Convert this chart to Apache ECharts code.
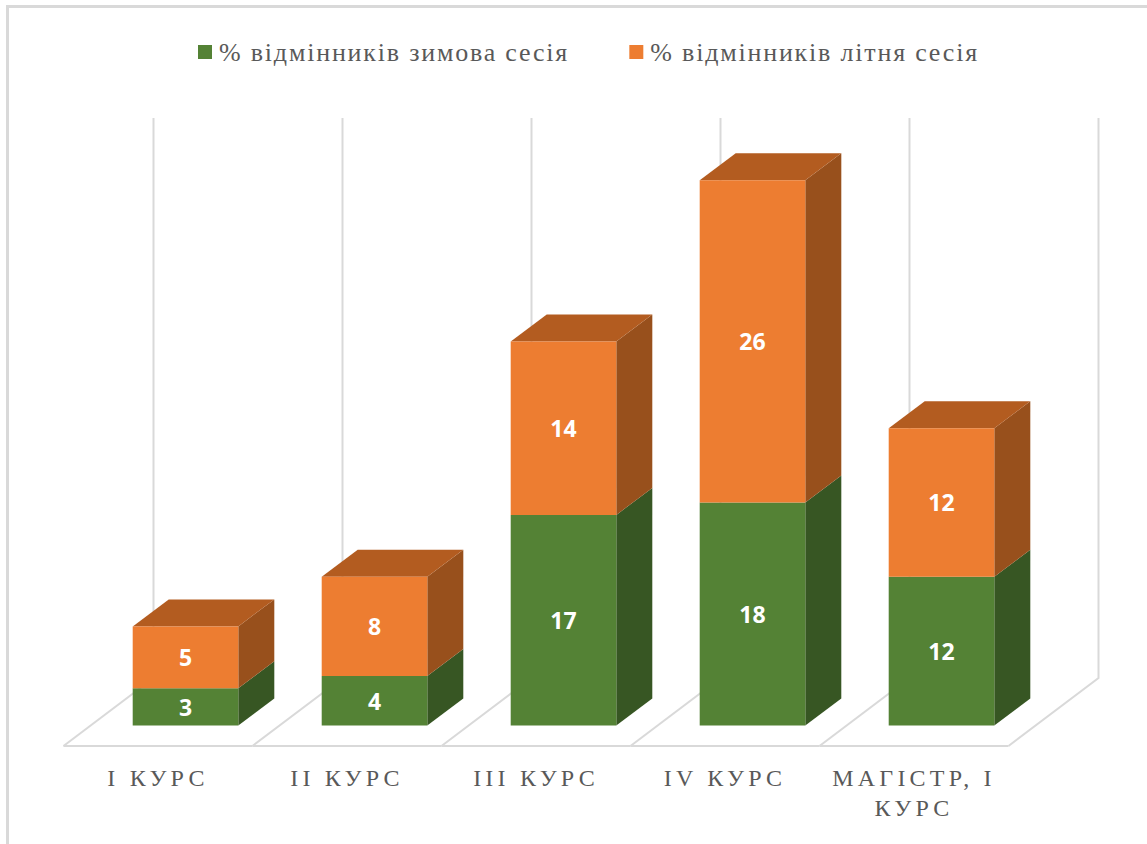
<!DOCTYPE html>
<html><head><meta charset="utf-8">
<style>
html,body{margin:0;padding:0;background:#fff}
#c{width:1147px;height:844px}
text[style*="24px"]{letter-spacing:4.2px}
text[style*="26px"]{letter-spacing:1.8px}
</style>
<script src="https://cdn.jsdelivr.net/npm/echarts@6/dist/echarts.min.js"></script>
</head><body><div id="c"></div>
<script>
const categories = ['І КУРС','ІІ КУРС','ІІІ КУРС','ІV КУРС','МАГІСТР, І\nКУРС'];
const winterValues = [3,4,17,18,12];
const summerValues = [5,8,14,26,12];
const winterName = '% відмінників зимова сесія';
const summerName = '% відмінників літня сесія';
const wallTopValue = 45.2;

const DX=36, DY=27, HALF=52.8, BAR_SHIFT=27.5, BAR_LIFT=20.5, FLOOR_DX=90, FLOOR_DY=68;
const LINE='#d9d9d9';

function box(api, front, side, top, showTop){
  const i=api.value(0), a=api.coord([i,api.value(1)]), b=api.coord([i,api.value(2)]);
  const cx=a[0]+BAR_SHIFT, y0=a[1]-BAR_LIFT, y1=b[1]-BAR_LIFT, l=cx-HALF, r=cx+HALF;
  const kids=[
    {type:'polygon',shape:{points:[[r,y0],[r+DX,y0-DY],[r+DX,y1-DY],[r,y1]]},style:{fill:side}},
    {type:'polygon',shape:{points:[[l,y0],[r,y0],[r,y1],[l,y1]]},style:{fill:front}},
    {type:'text',style:{text:String(api.value(2)-api.value(1)),x:cx,y:(y0+y1)/2,align:'center',verticalAlign:'middle',
      fill:'#fff',font:'bold 23px "Open Sans"'}}
  ];
  if(showTop) kids.splice(1,0,{type:'polygon',shape:{points:[[l,y1],[r,y1],[r+DX,y1-DY],[l+DX,y1-DY]]},style:{fill:top}});
  return {type:'group',children:kids};
}
function wallItem(params, api){
  const i=api.value(0), p=api.coord([i,0]), t=api.coord([i,wallTopValue]), band=api.size([1,0])[0];
  const lineStyle={stroke:LINE,lineWidth:2,fill:null};
  const xs=[p[0]-band/2];
  if(i===categories.length-1) xs.push(p[0]+band/2);
  const kids=[];
  xs.forEach(x=>{
    kids.push({type:'polyline',shape:{points:[[x,p[1]],[x+FLOOR_DX,p[1]-FLOOR_DY],[x+FLOOR_DX,t[1]-FLOOR_DY]]},style:lineStyle});
  });
  kids.push({type:'line',shape:{x1:p[0]-band/2,y1:p[1],x2:p[0]+band/2,y2:p[1]},style:lineStyle});
  return {type:'group',children:kids};
}
const winterData=categories.map((c,i)=>[i,0,winterValues[i]]);
const summerData=categories.map((c,i)=>[i,winterValues[i],winterValues[i]+summerValues[i]]);

const chart=echarts.init(document.getElementById('c'),null,{renderer:'svg'});
chart.setOption({
  animation:false,
  backgroundColor:'#fff',
  graphic:[
    {type:'rect',shape:{x:6,y:5,width:3,height:839},style:{fill:LINE},silent:true},
    {type:'rect',shape:{x:6,y:5,width:1141,height:3},style:{fill:LINE},silent:true}
  ],
  legend:{left:193,top:34,itemWidth:14,itemHeight:14,itemGap:107,icon:'rect',
    data:[winterName,summerName],
    textStyle:{color:'#595959',fontFamily:'"Liberation Serif"',fontSize:26,padding:[0,0,0,2]}},
  grid:{left:63.5,width:945,top:186,height:560,outerBoundsMode:'none'},
  xAxis:{type:'category',data:categories,axisLine:{show:false},axisTick:{show:false},splitLine:{show:false},
    axisLabel:{interval:0,color:'#595959',fontFamily:'"Liberation Serif"',fontSize:24,margin:17,lineHeight:30}},
  yAxis:{type:'value',min:0,max:wallTopValue,show:false,splitLine:{show:false}},
  series:[
    {type:'custom',name:'walls',z:1,silent:true,clip:false,data:categories.map((c,i)=>[i]),renderItem:wallItem,encode:{x:0}},
    {type:'custom',name:winterName,z:2,clip:false,itemStyle:{color:'#548235'},data:winterData,encode:{x:0,y:[1,2]},
      renderItem:(p,api)=>box(api,'#548235','#375623','#4a7030',false)},
    {type:'custom',name:summerName,z:3,clip:false,itemStyle:{color:'#ED7D31'},data:summerData,encode:{x:0,y:[1,2]},
      renderItem:(p,api)=>box(api,'#ED7D31','#98501C','#B35C20',true)}
  ]
});
</script></body></html>
